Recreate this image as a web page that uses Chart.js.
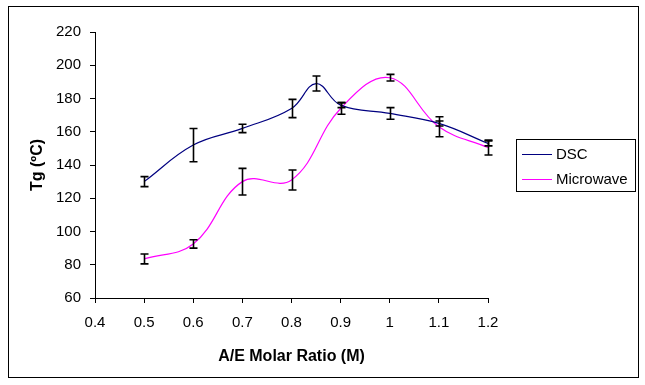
<!DOCTYPE html>
<html>
<head>
<meta charset="utf-8">
<script src="https://cdn.jsdelivr.net/npm/chart.js@4.4.0/dist/chart.umd.min.js"></script>
<style>
  body { margin: 0; background: #fff; }
  canvas { display: block; }
</style>
</head>
<body>
<canvas id="chart" width="645" height="385"></canvas>
<script>
// A/E molar ratio for each series
const dscRatio = [0.5, 0.6, 0.7, 0.8, 0.85, 0.9, 1.0, 1.1, 1.2];
const microRatio = [0.5, 0.6, 0.7, 0.8, 0.9, 1.0, 1.1, 1.2];

// Tg readings (ºC) and their error bars
const dscTg = [130, 152, 162, 174, 189, 176, 171, 165, 153];
const dscErr = [3, 10, 2.5, 5.5, 4.5, 1.5, 3.5, 1.5, 1.5];
const microTg = [83.5, 92.5, 130, 131, 174, 192.5, 163, 150.5];
const microErr = [3, 2.5, 8, 6, 3.5, 2, 6, 4.5];

const seriesNames = ['DSC', 'Microwave'];

// build {x, y} points for the chart
function toPoints(xs, ys) {
  return xs.map((x, i) => ({ x: x, y: ys[i] }));
}

const font = 'Liberation Sans, Arial, sans-serif';

// draws the error bars on top of the lines
const errorBars = {
  id: 'errorBars',
  afterDatasetsDraw(chart) {
    const ctx = chart.ctx;
    const xs = chart.scales.x, ys = chart.scales.y;
    ctx.save();
    ctx.strokeStyle = '#000';
    ctx.lineWidth = 1.6;
    chart.data.datasets.forEach(ds => {
      ds.data.forEach((p, i) => {
        const e = ds.errors[i];
        const px = Math.round(xs.getPixelForValue(p.x)) + 0.5;
        const top = ys.getPixelForValue(p.y + e);
        const bot = ys.getPixelForValue(p.y - e);
        ctx.beginPath();
        ctx.moveTo(px, top); ctx.lineTo(px, bot);
        ctx.moveTo(px - 4, top); ctx.lineTo(px + 4, top);
        ctx.moveTo(px - 4, bot); ctx.lineTo(px + 4, bot);
        ctx.stroke();
      });
    });
    ctx.restore();
  }
};

// outer frame and the boxed legend on the right
const frameAndLegend = {
  id: 'frameAndLegend',
  afterDraw(chart) {
    const ctx = chart.ctx;
    ctx.save();
    ctx.strokeStyle = '#000';
    ctx.lineWidth = 1;
    ctx.strokeRect(8.5, 6.5, 630, 371);
    ctx.strokeRect(516.5, 139.5, 119, 52);
    ctx.font = '15px ' + font;
    ctx.textBaseline = 'middle';
    ctx.fillStyle = '#000';
    chart.data.datasets.forEach((ds, i) => {
      const y = 154.5 + i * 25;
      ctx.strokeStyle = ds.borderColor;
      ctx.beginPath();
      ctx.moveTo(522, y); ctx.lineTo(552, y);
      ctx.stroke();
      ctx.fillText(ds.label, 556, y);
    });
    ctx.restore();
  }
};

new Chart(document.getElementById('chart'), {
  type: 'line',
  data: {
    datasets: [{
      label: seriesNames[0],
      data: toPoints(dscRatio, dscTg),
      errors: dscErr,
      borderColor: '#000080',
      borderWidth: 1.2,
      pointRadius: 0,
      tension: 0.4,
      fill: false
    }, {
      label: seriesNames[1],
      data: toPoints(microRatio, microTg),
      errors: microErr,
      borderColor: '#ff00ff',
      borderWidth: 1.2,
      pointRadius: 0,
      tension: 0.4,
      fill: false
    }]
  },
  options: {
    responsive: false,
    animation: false,
    devicePixelRatio: 1,
    layout: { padding: { top: 32, right: 157, bottom: 0, left: 0 } },
    plugins: {
      legend: { display: false },
      tooltip: { enabled: false }
    },
    scales: {
      x: {
        type: 'linear',
        min: 0.4,
        max: 1.2,
        afterFit: s => { s.height = 87; },
        border: { color: '#000', width: 1 },
        grid: { drawOnChartArea: false, color: '#000', tickLength: 5 },
        ticks: {
          stepSize: 0.1,
          padding: 11,
          color: '#000',
          font: { family: font, size: 15 },
          callback: v => String(Math.round(v * 10) / 10)
        },
        title: {
          display: true,
          text: 'A/E Molar Ratio (M)',
          color: '#000',
          font: { family: font, size: 16, weight: 'bold' },
          padding: { top: 0, bottom: 19 }
        }
      },
      y: {
        min: 60,
        max: 220,
        afterFit: s => { s.width = 95; },
        border: { color: '#000', width: 1 },
        grid: { drawOnChartArea: false, color: '#000', tickLength: 5 },
        ticks: {
          stepSize: 20,
          padding: 9,
          color: '#000',
          font: { family: font, size: 15 }
        },
        title: {
          display: true,
          text: 'Tg (ºC)',
          color: '#000',
          font: { family: font, size: 16, weight: 'bold' },
          padding: { top: 28, bottom: 0 }
        }
      }
    }
  },
  plugins: [errorBars, frameAndLegend]
});
</script>
</body>
</html>
